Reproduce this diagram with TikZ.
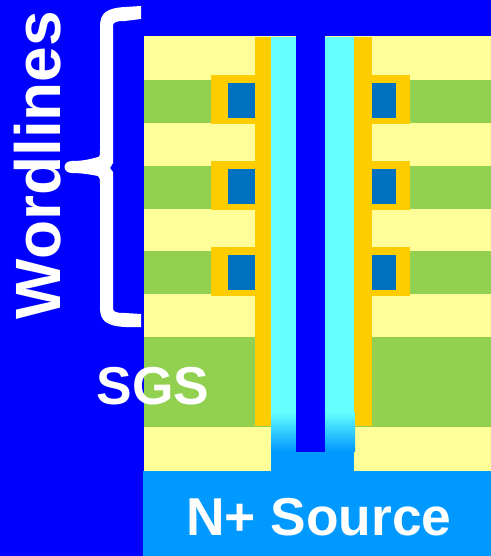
\documentclass[tikz,border=0pt]{standalone}
\usepackage{fontspec}
\setmainfont{Liberation Sans}
\definecolor{bgblue}{HTML}{0000FF}
\definecolor{oxideyellow}{HTML}{FFFF99}
\definecolor{gategreen}{HTML}{92D050}
\definecolor{linerorange}{HTML}{FFCC00}
\definecolor{trapblue}{HTML}{0070C0}
\definecolor{channelcyan}{HTML}{66FFFF}
\definecolor{sourceblue}{HTML}{0099FF}
\begin{document}
\begin{tikzpicture}[
    x=0.75pt, y=-0.75pt,
    every node/.style={text=white, font=\bfseries, inner sep=0pt},
    oxide/.style={fill=oxideyellow},
    gate/.style={fill=gategreen},
    liner/.style={fill=linerorange},
    trap/.style={fill=trapblue},
    channel/.style={fill=channelcyan}]

    \useasboundingbox (0,0) rectangle (491,556);
    \fill[bgblue] (0,0) rectangle (491,556);

    % layer stack
    \fill[oxide] (144,36) rectangle (491,471);
    \foreach \y in {80,166,251}
        \fill[gate] (144,\y) rectangle (491,\y+43);
    \fill[gate] (144,337) rectangle (491,427);

    % source and plug
    \fill[sourceblue] (143,471) rectangle (491,556);
    \fill[sourceblue] (271,450) rectangle (354,471);

    % vertical channel
    \fill[channel] (271,37) rectangle (296,412);
    \fill[channel] (325,37) rectangle (354,412);
    \shade[top color=channelcyan, bottom color=sourceblue] (271,412) rectangle (296,451);
    \shade[top color=channelcyan, bottom color=sourceblue] (325,412) rectangle (355,451);
    \fill[bgblue] (296,36) rectangle (325,452);
    \fill[liner] (255,37) rectangle (271,426);
    \fill[liner] (354,37) rectangle (372,412);
    \fill[liner] (355,412) rectangle (372,426);

    % cells on each wordline
    \foreach \y in {75,161,247} {
        \fill[liner] (211,\y) rectangle (255,\y+49);
        \fill[trap] (228,\y+8) rectangle (255,\y+43);
        \fill[liner] (372,\y) rectangle (410,\y+49);
        \fill[trap] (372,\y+8) rectangle (396,\y+43);
    }

    % labels
    \fill[white] (141,6) -- (125,7) .. controls (107,8) and (100,13) .. (100,26)
        -- (100,150) .. controls (100,154) and (100,157) .. (98,157)
        .. controls (88,160) and (80,161) .. (72,161)
        .. controls (62,161) and (62,173) .. (72,173)
        .. controls (80,173) and (88,174) .. (98,176)
        .. controls (100,177) and (100,180) .. (100,184)
        -- (100,308) .. controls (100,321) and (107,326) .. (125,327) -- (141,327)
        -- (141,314) -- (125,313) .. controls (116,313) and (113,312) .. (113,308)
        -- (113,172) -- (110,168) -- (113,163)
        -- (113,26) .. controls (113,22) and (116,21) .. (125,21) -- (141,19) -- cycle;

    \node[rotate=90, font=\bfseries\fontsize{48}{48}\selectfont] (wordlines) at (38,165) {Wordlines};
    \node[font=\bfseries\fontsize{40}{40}\selectfont] (sgs) at (153,386) {SGS};
    \node[font=\bfseries\fontsize{40}{40}\selectfont] (source) at (319,517) {N+ Source};
\end{tikzpicture}
\end{document}
